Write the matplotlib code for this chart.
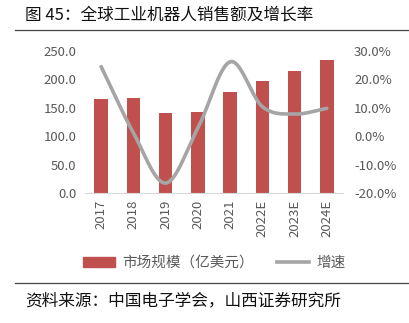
import numpy as np
import matplotlib.pyplot as plt
from matplotlib.lines import Line2D
from matplotlib.patches import Patch

plt.rcParams['font.family'] = ['Noto Sans CJK SC', 'DejaVu Sans']

years = ["2017", "2018", "2019", "2020", "2021", "2022E", "2023E", "2024E"]
market = [166.0, 168.0, 140.0, 142.0, 178.0, 198.0, 214.0, 234.0]
growth = [24.5, 1.2, -16.5, 2.9, 26.2, 10.4, 7.8, 9.8]

bar_color = "#C0504D"
line_color = "#A5A5A5"
tick_color = "#595959"


def smooth(x, y, n=30):
    # Catmull-Rom curve through the points, like Excel's smoothed line
    x = np.asarray(x, float)
    y = np.asarray(y, float)
    px = np.concatenate([[2 * x[0] - x[1]], x, [2 * x[-1] - x[-2]]])
    py = np.concatenate([[2 * y[0] - y[1]], y, [2 * y[-1] - y[-2]]])
    xs, ys = [], []
    t = np.linspace(0, 1, n)
    for i in range(1, len(px) - 2):
        for p, out in ((px, xs), (py, ys)):
            p0, p1, p2, p3 = p[i - 1], p[i], p[i + 1], p[i + 2]
            out.extend(0.5 * ((2 * p1) + (-p0 + p2) * t
                              + (2 * p0 - 5 * p1 + 4 * p2 - p3) * t ** 2
                              + (-p0 + 3 * p1 - 3 * p2 + p3) * t ** 3))
    return np.array(xs), np.array(ys)


fig = plt.figure(figsize=(4.1, 3.23), dpi=100)
ax = fig.add_axes([85 / 410, 1 - 193 / 323, (343 - 85) / 410, (193 - 51) / 323])
x = np.arange(len(years))
ax.bar(x, market, width=0.42, color=bar_color, zorder=2)
ax.set_xlim(-0.5, len(years) - 0.5)
ax.set_ylim(0, 250)
ax.set_yticks(np.arange(0, 251, 50))
ax.set_yticklabels([f"{v:.1f}" for v in np.arange(0, 251, 50)])
ax.set_xticks(x)
ax.set_xticklabels(years, rotation=90)

ax2 = ax.twinx()
sx, sy = smooth(x, growth)
ax2.plot(sx, sy, color=line_color, lw=2.6, solid_capstyle="round", zorder=3)
ax2.set_ylim(-20, 30)
ax2.set_yticks(np.arange(-20, 31, 10))
ax2.set_yticklabels([f"{v:.1f}%" for v in np.arange(-20, 31, 10)])

for a in (ax, ax2):
    for s in a.spines.values():
        s.set_visible(False)
    a.tick_params(length=0, labelsize=9.5, colors=tick_color)
ax.spines["bottom"].set_visible(True)
ax.spines["bottom"].set_color("#D9D9D9")
ax.tick_params(axis="y", pad=6)
ax.tick_params(axis="x", pad=5)
ax2.tick_params(axis="y", pad=8)

handles = [Patch(color=bar_color), Line2D([0], [0], color=line_color, lw=2.6)]
fig.legend(handles, ["市场规模（亿美元）", "增速"], loc="center",
           bbox_to_anchor=(214 / 410, 1 - 263 / 323), ncol=2, frameon=False,
           fontsize=10.5, labelcolor=tick_color, handlelength=2.2,
           columnspacing=1.6, handletextpad=0.5)

fig.text(25 / 410, 1 - 15 / 323, "图 45：全球工业机器人销售额及增长率",
         fontsize=12, va="center", ha="left", color="#111111")
fig.add_artist(Line2D([15 / 410, 1], [1 - 30 / 323] * 2, color="#444444", lw=0.9))
fig.add_artist(Line2D([15 / 410, 1], [1 - 283 / 323] * 2, color="#444444", lw=0.9))
fig.text(25 / 410, 1 - 301 / 323, "资料来源：中国电子学会，山西证券研究所",
         fontsize=12, va="center", ha="left", color="#111111")

fig.savefig("out.png", dpi=100)
